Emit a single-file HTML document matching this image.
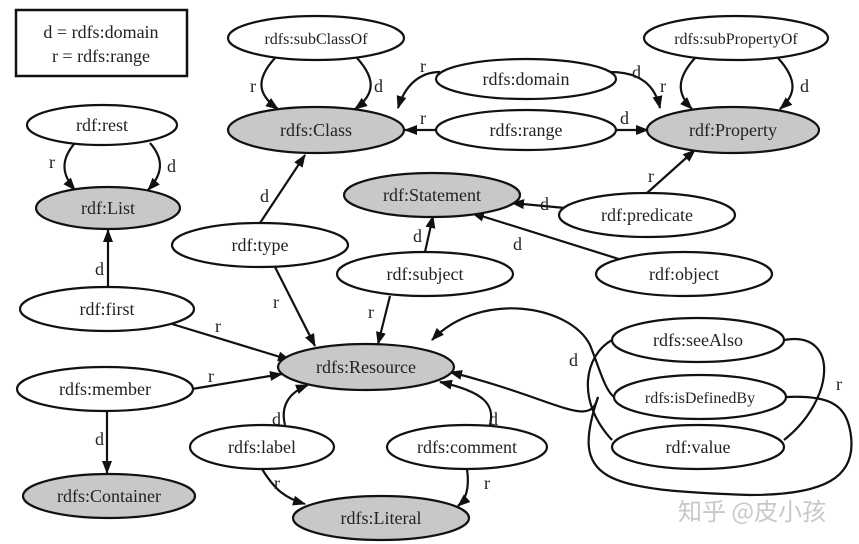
<!DOCTYPE html>
<html><head><meta charset="utf-8"><style>html,body{margin:0;padding:0;background:#fff}svg{display:block}text{font-family:"Liberation Serif",serif;font-size:18px;fill:#222}</style></head><body>
<svg width="859" height="544" viewBox="0 0 859 544" xmlns="http://www.w3.org/2000/svg">
<defs><marker id="a" markerWidth="13" markerHeight="10" refX="12" refY="5" orient="auto" markerUnits="userSpaceOnUse"><path d="M0,0 L13,5 L0,10 z" fill="#111"/></marker></defs>
<rect x="16" y="10" width="171" height="66" fill="#fff" stroke="#111" stroke-width="2.5"/>
<text x="101" y="38" text-anchor="middle">d = rdfs:domain</text>
<text x="101" y="62" text-anchor="middle">r = rdfs:range</text>
<g fill="none" stroke="#111" stroke-width="2.2">
<path d="M275,58 C255,80 258,95 278,109" marker-end="url(#a)"/>
<path d="M357,58 C377,80 374,95 355,109" marker-end="url(#a)"/>
<path d="M75,143 C60,160 62,175 75,190" marker-end="url(#a)"/>
<path d="M150,143 C165,160 162,175 148,190" marker-end="url(#a)"/>
<path d="M440,72 C420,72 405,85 398,108" marker-end="url(#a)"/>
<path d="M436,130 L405,130" marker-end="url(#a)"/>
<path d="M610,72 C640,72 655,85 660,108" marker-end="url(#a)"/>
<path d="M616,130 L648,130" marker-end="url(#a)"/>
<path d="M695,58 C675,80 678,95 692,109" marker-end="url(#a)"/>
<path d="M778,58 C798,80 796,95 780,109" marker-end="url(#a)"/>
<path d="M647,193 L695,150" marker-end="url(#a)"/>
<path d="M565,208 L512,203" marker-end="url(#a)"/>
<path d="M260,223 L305,155" marker-end="url(#a)"/>
<path d="M425,252 L433,216" marker-end="url(#a)"/>
<path d="M622,260 L472,213" marker-end="url(#a)"/>
<path d="M108,288 L108,230" marker-end="url(#a)"/>
<path d="M275,267 L315,346" marker-end="url(#a)"/>
<path d="M390,296 L378,344" marker-end="url(#a)"/>
<path d="M172,324 L290,360" marker-end="url(#a)"/>
<path d="M192,389 L282,374" marker-end="url(#a)"/>
<path d="M107,411 L107,473" marker-end="url(#a)"/>
<path d="M285,425 C280,405 290,392 308,385" marker-end="url(#a)"/>
<path d="M490,425 C495,405 485,392 440,382" marker-end="url(#a)"/>
<path d="M262,469 C275,490 285,498 305,504" marker-end="url(#a)"/>
<path d="M467,469 C470,490 465,500 458,506" marker-end="url(#a)"/>
<path d="M612,340 C585,355 575,400 612,440"/>
<path d="M614,397 C605,390 600,370 590,345 C570,305 480,290 432,340" marker-end="url(#a)"/>
<path d="M598,397 C570,480 600,490 750,495 C820,495 860,480 850,430 C845,405 830,395 786,397"/>
<path d="M784,340 C840,330 835,400 784,440"/>
<path d="M598,397 C590,430 560,400 450,372" marker-end="url(#a)"/>
</g>
<g stroke="#111" stroke-width="2.2">
<ellipse cx="316" cy="38" rx="88" ry="22" fill="#fff"/>
<ellipse cx="316" cy="130" rx="88" ry="23" fill="#c8c8c8"/>
<ellipse cx="102" cy="125" rx="75" ry="20" fill="#fff"/>
<ellipse cx="108" cy="208" rx="72" ry="21" fill="#c8c8c8"/>
<ellipse cx="526" cy="79" rx="90" ry="20" fill="#fff"/>
<ellipse cx="526" cy="130" rx="90" ry="20" fill="#fff"/>
<ellipse cx="736" cy="38" rx="92" ry="22" fill="#fff"/>
<ellipse cx="733" cy="130" rx="86" ry="23" fill="#c8c8c8"/>
<ellipse cx="432" cy="195" rx="88" ry="22" fill="#c8c8c8"/>
<ellipse cx="647" cy="215" rx="88" ry="22" fill="#fff"/>
<ellipse cx="260" cy="245" rx="88" ry="22" fill="#fff"/>
<ellipse cx="425" cy="274" rx="88" ry="22" fill="#fff"/>
<ellipse cx="684" cy="274" rx="88" ry="22" fill="#fff"/>
<ellipse cx="107" cy="309" rx="87" ry="22" fill="#fff"/>
<ellipse cx="366" cy="367" rx="88" ry="23" fill="#c8c8c8"/>
<ellipse cx="105" cy="389" rx="88" ry="22" fill="#fff"/>
<ellipse cx="698" cy="340" rx="86" ry="22" fill="#fff"/>
<ellipse cx="700" cy="397" rx="86" ry="22" fill="#fff"/>
<ellipse cx="698" cy="447" rx="86" ry="22" fill="#fff"/>
<ellipse cx="262" cy="447" rx="72" ry="22" fill="#fff"/>
<ellipse cx="467" cy="447" rx="80" ry="22" fill="#fff"/>
<ellipse cx="109" cy="496" rx="86" ry="22" fill="#c8c8c8"/>
<ellipse cx="381" cy="518" rx="88" ry="22" fill="#c8c8c8"/>
</g>
<g text-anchor="middle">
<text x="316" y="44" style="font-size:16px">rdfs:subClassOf</text>
<text x="316" y="136">rdfs:Class</text>
<text x="102" y="131">rdf:rest</text>
<text x="108" y="214">rdf:List</text>
<text x="526" y="85">rdfs:domain</text>
<text x="526" y="136">rdfs:range</text>
<text x="736" y="44" style="font-size:16px">rdfs:subPropertyOf</text>
<text x="733" y="136">rdf:Property</text>
<text x="432" y="201">rdf:Statement</text>
<text x="647" y="221">rdf:predicate</text>
<text x="260" y="251">rdf:type</text>
<text x="425" y="280">rdf:subject</text>
<text x="684" y="280">rdf:object</text>
<text x="107" y="315">rdf:first</text>
<text x="366" y="373">rdfs:Resource</text>
<text x="105" y="395">rdfs:member</text>
<text x="698" y="346">rdfs:seeAlso</text>
<text x="700" y="403" style="font-size:16px">rdfs:isDefinedBy</text>
<text x="698" y="453">rdf:value</text>
<text x="262" y="453">rdfs:label</text>
<text x="467" y="453">rdfs:comment</text>
<text x="109" y="502">rdfs:Container</text>
<text x="381" y="524">rdfs:Literal</text>
</g>
<g style="font-size:19px">
<text x="250" y="92">r</text><text x="374" y="92">d</text>
<text x="49" y="168">r</text><text x="167" y="172">d</text>
<text x="420" y="72">r</text><text x="420" y="124">r</text>
<text x="632" y="78">d</text><text x="620" y="124">d</text>
<text x="660" y="92">r</text><text x="800" y="92">d</text>
<text x="648" y="182">r</text><text x="540" y="210">d</text>
<text x="260" y="202">d</text><text x="413" y="242">d</text>
<text x="513" y="250">d</text><text x="95" y="275">d</text>
<text x="273" y="308">r</text><text x="368" y="318">r</text>
<text x="215" y="332">r</text><text x="208" y="382">r</text>
<text x="95" y="445">d</text><text x="272" y="425">d</text>
<text x="489" y="425">d</text><text x="274" y="489">r</text>
<text x="484" y="489">r</text><text x="569" y="366">d</text>
<text x="836" y="390">r</text>
</g>
<text x="678" y="520" style="font-family:'Noto Sans CJK SC',sans-serif;font-size:24px;fill:#c8c8c8">知乎 @皮小孩</text>
</svg>
</body></html>
